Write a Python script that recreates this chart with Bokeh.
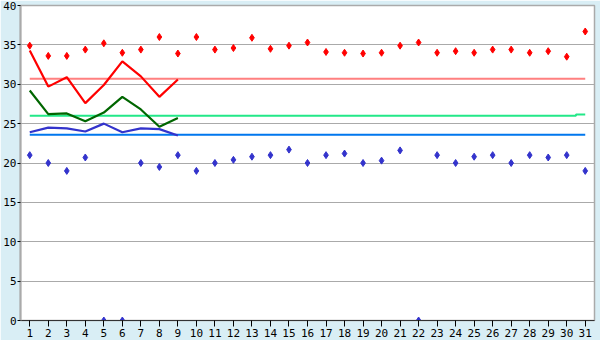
from bokeh.plotting import figure
from bokeh.models import FixedTicker, Range1d
from bokeh.embed import file_html
from bokeh.resources import INLINE

days = list(range(1, 32))
max_temp = [34.9, 33.6, 33.6, 34.4, 35.2, 34.0, 34.4, 36.0, 33.9, 36.0,
            34.4, 34.6, 35.9, 34.5, 34.9, 35.3, 34.1, 34.0, 33.9, 34.0,
            34.9, 35.3, 34.0, 34.2, 34.0, 34.4, 34.4, 34.0, 34.2, 33.5, 36.7]
min_temp = [21.0, 20.0, 19.0, 20.7, 0.0, 0.0, 20.0, 19.5, 21.0, 19.0,
            20.0, 20.4, 20.8, 21.0, 21.7, 20.0, 21.0, 21.2, 20.0, 20.3,
            21.6, 0.0, 21.0, 20.0, 20.8, 21.0, 20.0, 21.0, 20.7, 21.0, 19.0]
line_days = list(range(1, 10))
upper_line = [34.3, 29.7, 30.9, 27.6, 29.9, 32.9, 31.0, 28.4, 30.6]
mid_line = [29.2, 26.2, 26.3, 25.3, 26.4, 28.4, 26.8, 24.6, 25.7]
lower_line = [23.9, 24.5, 24.4, 24.0, 25.0, 23.9, 24.4, 24.3, 23.5]
upper_avg = [30.7] * 31
mid_avg = [26.0] * 30 + [26.15]
lower_avg = [23.6] * 31
y_ticks = [0, 5, 10, 15, 20, 25, 30, 35, 40]


def step_points(xs, ys):
    """Step line that changes level halfway between days, clipped to first/last day."""
    px, py = [xs[0]], [ys[0]]
    for i in range(1, len(xs)):
        mid = (xs[i - 1] + xs[i]) / 2
        px += [mid, mid]
        py += [ys[i - 1], ys[i]]
    px.append(xs[-1])
    py.append(ys[-1])
    return px, py


bg = "#D9EEF5"
p = figure(width=600, height=340, output_backend="svg", toolbar_location=None,
           x_range=Range1d(0.5, 31.5), y_range=Range1d(0, 40),
           min_border_left=20, min_border_right=6, min_border_top=5, min_border_bottom=20)
p.background_fill_color = "white"
p.border_fill_color = bg
p.outline_line_color = "#AAAAAA"
p.outline_line_width = 1.5

p.xgrid.visible = False
p.ygrid.ticker = FixedTicker(ticks=y_ticks)
p.ygrid.grid_line_color = "#AAAAAA"
p.ygrid.grid_line_width = 1

for ax in (p.xaxis[0], p.yaxis[0]):
    ax.major_label_text_font = "DejaVu Sans Mono"
    ax.major_label_text_font_size = "11px"
    ax.major_label_text_color = "black"
    ax.minor_tick_line_color = None
    ax.major_tick_in = 0
    ax.major_tick_line_color = "black"

p.yaxis.ticker = FixedTicker(ticks=y_ticks)
p.yaxis.major_tick_out = 3
p.yaxis.axis_line_color = "#AAAAAA"
p.yaxis.axis_line_width = 2
p.yaxis.major_label_standoff = 1

p.xaxis.ticker = FixedTicker(ticks=days)
p.xaxis.major_tick_out = 6
p.xaxis.axis_line_color = "#333333"
p.xaxis.major_label_standoff = 2

for ys, col in ((upper_avg, "#FF8080"), (mid_avg, "#22E888"), (lower_avg, "#0077EE")):
    sx, sy = step_points(days, ys)
    p.line(sx, sy, line_color=col, line_width=2)

p.line(line_days, upper_line, line_color="#FF0000", line_width=2.2)
p.line(line_days, mid_line, line_color="#006600", line_width=2.2)
p.line(line_days, lower_line, line_color="#3333CC", line_width=2.2)

p.scatter(days, max_temp, marker="diamond", size=7, color="#FF0000")
p.scatter(days, min_temp, marker="diamond", size=7, color="#3333CC")

open("out.html", "w").write(file_html(p, INLINE))
